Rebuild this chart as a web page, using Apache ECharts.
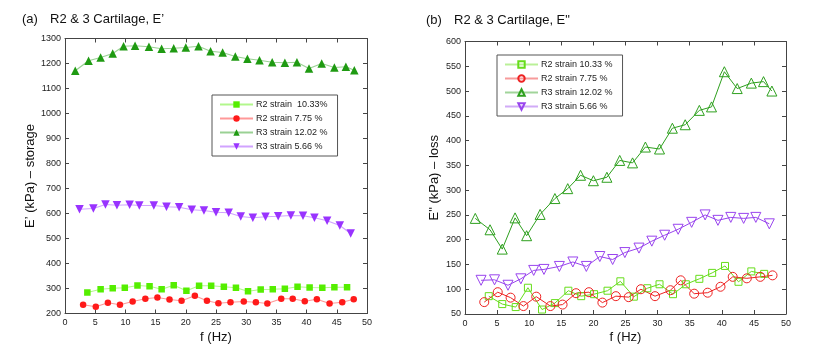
<!DOCTYPE html>
<html>
<head>
<meta charset="utf-8">
<script src="https://cdn.jsdelivr.net/npm/echarts@6/dist/echarts.min.js"></script>
<style>
  html, body { margin: 0; padding: 0; background: #fff; }
  #wrap { width: 830px; height: 353px; position: relative; }
  .chart { position: absolute; top: 0; width: 415px; height: 353px; }
</style>
</head>
<body>
<div id="wrap">
  <div class="chart" id="chartA" style="left:0"></div>
  <div class="chart" id="chartB" style="left:415px"></div>
</div>
<script>
// (a) storage modulus E'
const seriesNamesA = ['R2 strain  10.33%', 'R2 strain 7.75 %', 'R3 strain 12.02 %', 'R3 strain 5.66 %']
const freqA1 = [3.7, 5.9, 7.9, 9.9, 12.0, 14.0, 16.0, 18.0, 20.1, 22.2, 24.2, 26.3, 28.3, 30.3, 32.4, 34.4, 36.4, 38.5, 40.5, 42.6, 44.6, 46.7]
const storageA1 = [284, 297, 301, 303, 312, 309, 297, 313, 291, 311, 311, 307, 303, 289, 296, 297, 299, 307, 304, 303, 305, 305]
const freqA2 = [3.0, 5.1, 7.1, 9.1, 11.2, 13.3, 15.3, 17.3, 19.3, 21.5, 23.5, 25.4, 27.4, 29.6, 31.6, 33.5, 35.8, 37.7, 39.7, 41.7, 43.8, 45.9, 47.8]
const storageA2 = [235, 227, 243, 235, 248, 259, 264, 256, 251, 271, 251, 241, 245, 248, 245, 240, 259, 259, 249, 257, 240, 245, 257]
const freqA3 = [1.7, 3.9, 5.9, 7.9, 9.7, 11.6, 13.9, 16.0, 18.0, 20.0, 22.1, 24.1, 26.1, 28.2, 30.2, 32.2, 34.3, 36.4, 38.4, 40.4, 42.5, 44.6, 46.5, 47.9]
const storageA3 = [1171, 1211, 1224, 1240, 1269, 1271, 1267, 1259, 1261, 1264, 1269, 1249, 1244, 1228, 1219, 1213, 1205, 1203, 1205, 1180, 1200, 1184, 1187, 1173]
const freqA4 = [2.4, 4.7, 6.7, 8.6, 10.7, 12.3, 14.7, 16.8, 18.9, 21.0, 23.0, 25.0, 27.1, 29.1, 31.1, 33.2, 35.3, 37.4, 39.4, 41.3, 43.4, 45.5, 47.3]
const storageA4 = [617, 620, 636, 633, 635, 632, 632, 627, 625, 615, 612, 605, 603, 588, 583, 587, 589, 592, 591, 583, 571, 552, 520]

// (b) loss modulus E"
const seriesNamesB = ['R2 strain 10.33 %', 'R2 strain 7.75 %', 'R3 strain 12.02 %', 'R3 strain 5.66 %']
const freqB1 = [3.7, 5.8, 7.9, 9.8, 12.0, 14.0, 16.1, 18.1, 20.1, 22.2, 24.2, 26.3, 28.4, 30.3, 32.4, 34.4, 36.5, 38.5, 40.5, 42.6, 44.6, 46.6]
const lossB1 = [86, 70, 64, 103, 59, 72, 97, 86, 90, 97, 116, 85, 102, 110, 90, 110, 121, 133, 147, 115, 136, 131]
const freqB2 = [3.0, 5.1, 7.1, 9.1, 11.1, 13.3, 15.2, 17.3, 19.3, 21.4, 23.5, 25.5, 27.4, 29.6, 32.0, 33.6, 35.7, 37.8, 39.8, 41.7, 43.9, 46.0, 47.9]
const lossB2 = [74, 94, 83, 66, 85, 66, 69, 92, 94, 73, 86, 84, 100, 86, 98, 118, 91, 93, 105, 125, 122, 125, 128]
const freqB3 = [1.6, 3.9, 5.8, 7.8, 9.6, 11.7, 14.0, 16.0, 18.0, 20.0, 22.1, 24.1, 26.1, 28.1, 30.3, 32.3, 34.3, 36.5, 38.4, 40.4, 42.4, 44.6, 46.5, 47.8]
const lossB3 = [243, 220, 181, 244, 208, 251, 283, 303, 330, 319, 326, 360, 355, 387, 383, 425, 432, 461, 468, 539, 505, 516, 519, 500]
const freqB4 = [2.5, 4.6, 6.7, 8.7, 10.7, 12.3, 14.7, 16.8, 18.9, 21.0, 23.0, 24.9, 27.1, 29.1, 31.1, 33.2, 35.3, 37.4, 39.4, 41.4, 43.4, 45.3, 47.4]
const lossB4 = [118, 119, 108, 121, 138, 140, 146, 155, 146, 166, 160, 174, 183, 197, 209, 221, 235, 250, 239, 245, 243, 245, 232]

const FONT = '"Liberation Sans", Arial, sans-serif'
const AXIS_COLOR = '#444'

function zip(xs, ys) {
  return xs.map((x, i) => [x, ys[i]])
}

function frameAxes(min, max, interval, yName, yNameGap) {
  const tick = { show: true, inside: true, length: 4, lineStyle: { color: AXIS_COLOR } }
  const line = { show: true, onZero: false, lineStyle: { color: AXIS_COLOR, width: 1 } }
  const label = { color: '#222', fontSize: 9, fontFamily: FONT, formatter: v => String(v) }
  return {
    xAxis: [{
      type: 'value', min: 0, max: 50, interval: 5,
      name: 'f (Hz)', nameLocation: 'middle', nameGap: 17, nameMoveOverlap: false,
      nameTextStyle: { fontSize: 13, color: '#111', fontFamily: FONT },
      axisLine: line, axisTick: tick, axisLabel: Object.assign({ margin: 5 }, label),
      splitLine: { show: false }
    }, {
      type: 'value', min: 0, max: 50, interval: 5, position: 'top',
      axisLine: line, axisTick: tick, axisLabel: { show: false }, splitLine: { show: false }
    }],
    yAxis: [{
      type: 'value', min: min, max: max, interval: interval,
      name: yName, nameLocation: 'middle', nameGap: yNameGap, nameMoveOverlap: false,
      nameTextStyle: { fontSize: 13, color: '#111', fontFamily: FONT },
      axisLine: line, axisTick: tick, axisLabel: Object.assign({ margin: 4 }, label),
      splitLine: { show: false }
    }, {
      type: 'value', min: min, max: max, interval: interval, position: 'right',
      axisLine: line, axisTick: tick, axisLabel: { show: false }, splitLine: { show: false }
    }]
  }
}

function titles(tag, text, top, left1, left2) {
  const ts = { fontSize: 13, fontWeight: 'normal', color: '#111', fontFamily: FONT }
  return [
    { text: tag, left: left1, top: top, padding: 0, textStyle: ts },
    { text: text, left: left2, top: top, padding: 0, textStyle: ts }
  ]
}

function legendBox(names, left, top, lineOpacity) {
  const opt = {
    orient: 'vertical', left: left, top: top,
    data: names,
    itemWidth: 33, itemHeight: 8, itemGap: 5,
    padding: [5, 10, 5, 7],
    borderColor: '#555', borderWidth: 1, backgroundColor: '#fff',
    textStyle: { fontSize: 9, color: '#222', fontFamily: FONT, padding: [0, 0, 0, -2] }
  }
  if (lineOpacity) opt.lineStyle = { opacity: lineOpacity }
  return opt
}

// chart (a): filled markers, pale lines
const colorsA = ['#55ee00', '#ff1a1a', '#1f9a12', '#9933ff']
const symbolsA = ['rect', 'circle', 'triangle', 'triangle']
const sizesA = [6.5, 6.5, 8.5, 8.5]
const dataA = [zip(freqA1, storageA1), zip(freqA2, storageA2), zip(freqA3, storageA3), zip(freqA4, storageA4)]

const seriesA = dataA.map((d, i) => ({
  name: seriesNamesA[i],
  type: 'line',
  data: d,
  symbol: symbolsA[i],
  symbolSize: sizesA[i],
  symbolRotate: i === 3 ? 180 : 0,
  showAllSymbol: true,
  itemStyle: { color: colorsA[i] },
  lineStyle: { color: colorsA[i], width: 1.2, opacity: 0.45 },
  animation: false
}))

const chartA = echarts.init(document.getElementById('chartA'))
chartA.setOption(Object.assign({
  backgroundColor: '#fff',
  title: titles('(a)', 'R2 & 3 Cartilage, E’', 13, 22, 50),
  grid: { left: 65, right: 48, top: 38.5, bottom: 39.5 },
  legend: legendBox(seriesNamesA, 212, 95),
  series: seriesA
}, frameAxes(200, 1300, 100, 'E’ (kPa) – storage', 28)))

// chart (b): open markers
const colorsB = ['#66dd1a', '#ee2222', '#2ea01e', '#9944ee']
const symbolsB = ['rect', 'circle', 'triangle', 'triangle']
const sizesB = [7, 9, 10, 10]
const dataB = [zip(freqB1, lossB1), zip(freqB2, lossB2), zip(freqB3, lossB3), zip(freqB4, lossB4)]

const seriesB = dataB.map((d, i) => ({
  name: seriesNamesB[i],
  type: 'line',
  data: d,
  symbol: symbolsB[i],
  symbolSize: sizesB[i],
  symbolRotate: i === 3 ? 180 : 0,
  showAllSymbol: true,
  itemStyle: { color: 'rgba(255,255,255,0)', borderColor: colorsB[i], borderWidth: 1 },
  lineStyle: { color: colorsB[i], width: 1 },
  animation: false
}))

const chartB = echarts.init(document.getElementById('chartB'))
chartB.setOption(Object.assign({
  backgroundColor: '#fff',
  title: titles('(b)', 'R2 & 3 Cartilage, E"', 14, 11, 39),
  grid: { left: 50, right: 44, top: 41.5, bottom: 39 },
  legend: legendBox(seriesNamesB, 82, 55, 0.45),
  series: seriesB
}, frameAxes(50, 600, 50, 'E" (kPa) – loss', 24)))
</script>
</body>
</html>
